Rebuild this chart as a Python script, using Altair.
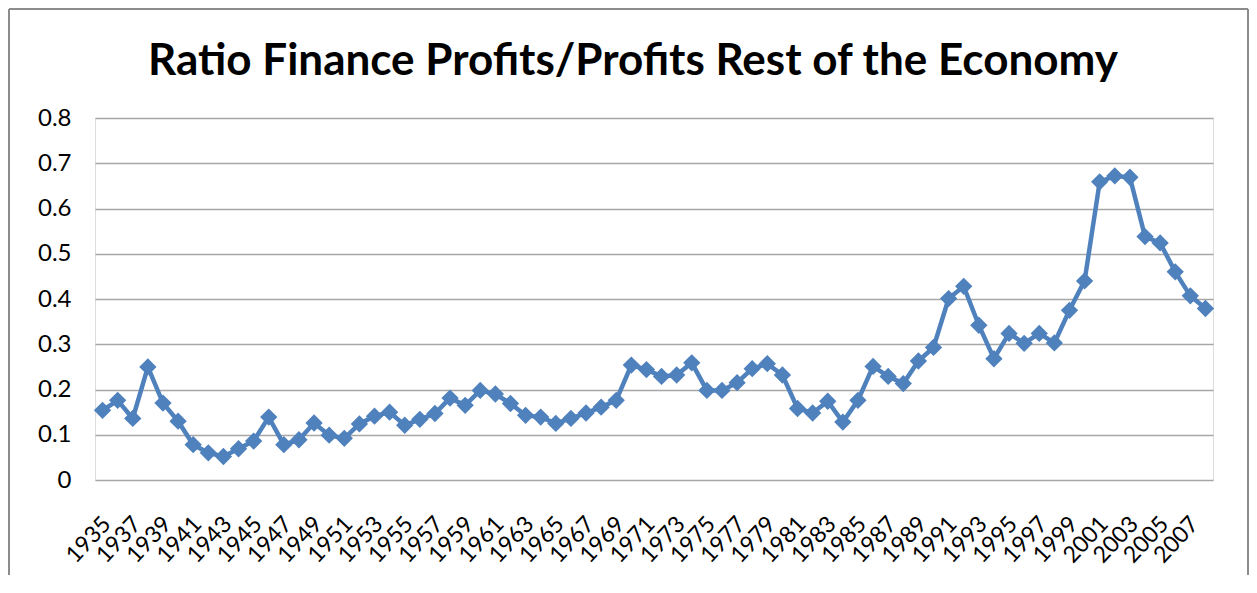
import altair as alt
import pandas as pd

years = list(range(1935, 2009))
ratio = [
    0.154, 0.176, 0.136, 0.250, 0.170, 0.130, 0.078, 0.060, 0.052, 0.069,
    0.086, 0.139, 0.078, 0.089, 0.126, 0.099, 0.092, 0.124, 0.141, 0.150,
    0.121, 0.134, 0.147, 0.181, 0.165, 0.198, 0.190, 0.169, 0.143, 0.139,
    0.125, 0.136, 0.148, 0.161, 0.176, 0.254, 0.244, 0.229, 0.232, 0.259,
    0.198, 0.198, 0.215, 0.246, 0.257, 0.232, 0.158, 0.148, 0.174, 0.128,
    0.176, 0.251, 0.229, 0.213, 0.263, 0.293, 0.401, 0.428, 0.342, 0.268,
    0.324, 0.302, 0.324, 0.303, 0.375, 0.440, 0.659, 0.672, 0.669, 0.538,
    0.524, 0.460, 0.407, 0.379,
]
label_years = [y for y in years if y % 2 == 1]
y_ticks = [0, 0.1, 0.2, 0.3, 0.4, 0.5, 0.6, 0.7, 0.8]
title_text = ["Ratio Finance Profits/Profits Rest of the Economy"]

df = pd.DataFrame({"year": years, "ratio": ratio})

FONT = "Lato"
BLUE = "#4F81BD"

x_enc = alt.X(
    "year:O",
    title=None,
    scale=alt.Scale(type="point", padding=0.5),
    axis=alt.Axis(
        values=label_years,
        labelAngle=-47,
        labelAlign="right",
        labelBaseline="middle",
        labelFont=FONT,
        labelFontSize=23,
        labelColor="#000000",
        labelPadding=40,
        labelOffset=4,
        labelOverlap=False,
        ticks=False,
        domain=False,
        grid=False,
    ),
)
y_enc = alt.Y(
    "ratio:Q",
    title=None,
    scale=alt.Scale(domain=[0, 0.8], nice=False, zero=True),
    axis=alt.Axis(
        values=y_ticks,
        format=".1~f",
        labelFont=FONT,
        labelFontSize=24,
        labelColor="#000000",
        labelPadding=24,
        ticks=False,
        domain=False,
        grid=True,
        gridColor="#a6a6a6",
        gridWidth=1.4,
    ),
)

line = alt.Chart(df).mark_line(color=BLUE, strokeWidth=4.5).encode(x=x_enc, y=y_enc)
points = alt.Chart(df).mark_point(
    shape="diamond", filled=True, color=BLUE, size=300, opacity=1
).encode(x=alt.X("year:O"), y=alt.Y("ratio:Q"))

title = alt.Chart(pd.DataFrame({"t": title_text})).mark_text(
    font=FONT,
    fontSize=44,
    fontWeight="bold",
    color="#000000",
    align="center",
    baseline="alphabetic",
).encode(text="t:N", x=alt.value(538), y=alt.value(-43))

border = pd.DataFrame({"k": ["left", "top", "right"]})
left_rule = alt.Chart(border).transform_filter("datum.k == 'left'").mark_rule(
    color="#8c8c8c", strokeWidth=2
).encode(x=alt.value(-86), y=alt.value(-109), y2=alt.value(480))
top_rule = alt.Chart(border).transform_filter("datum.k == 'top'").mark_rule(
    color="#8c8c8c", strokeWidth=2
).encode(x=alt.value(-86), x2=alt.value(1153), y=alt.value(-109))
right_rule = alt.Chart(border).transform_filter("datum.k == 'right'").mark_rule(
    color="#8c8c8c", strokeWidth=2
).encode(x=alt.value(1153), y=alt.value(-109), y2=alt.value(480))

chart = alt.layer(line, points, title, left_rule, top_rule, right_rule).properties(
    width=1118,
    height=362,
    padding={"left": 87, "top": 110, "right": 36, "bottom": 95},
    autosize=alt.AutoSizeParams(type="none"),
).configure_view(stroke=None).configure(background="#ffffff")

chart.save("out.html", embed_options={"renderer": "svg", "actions": False})
